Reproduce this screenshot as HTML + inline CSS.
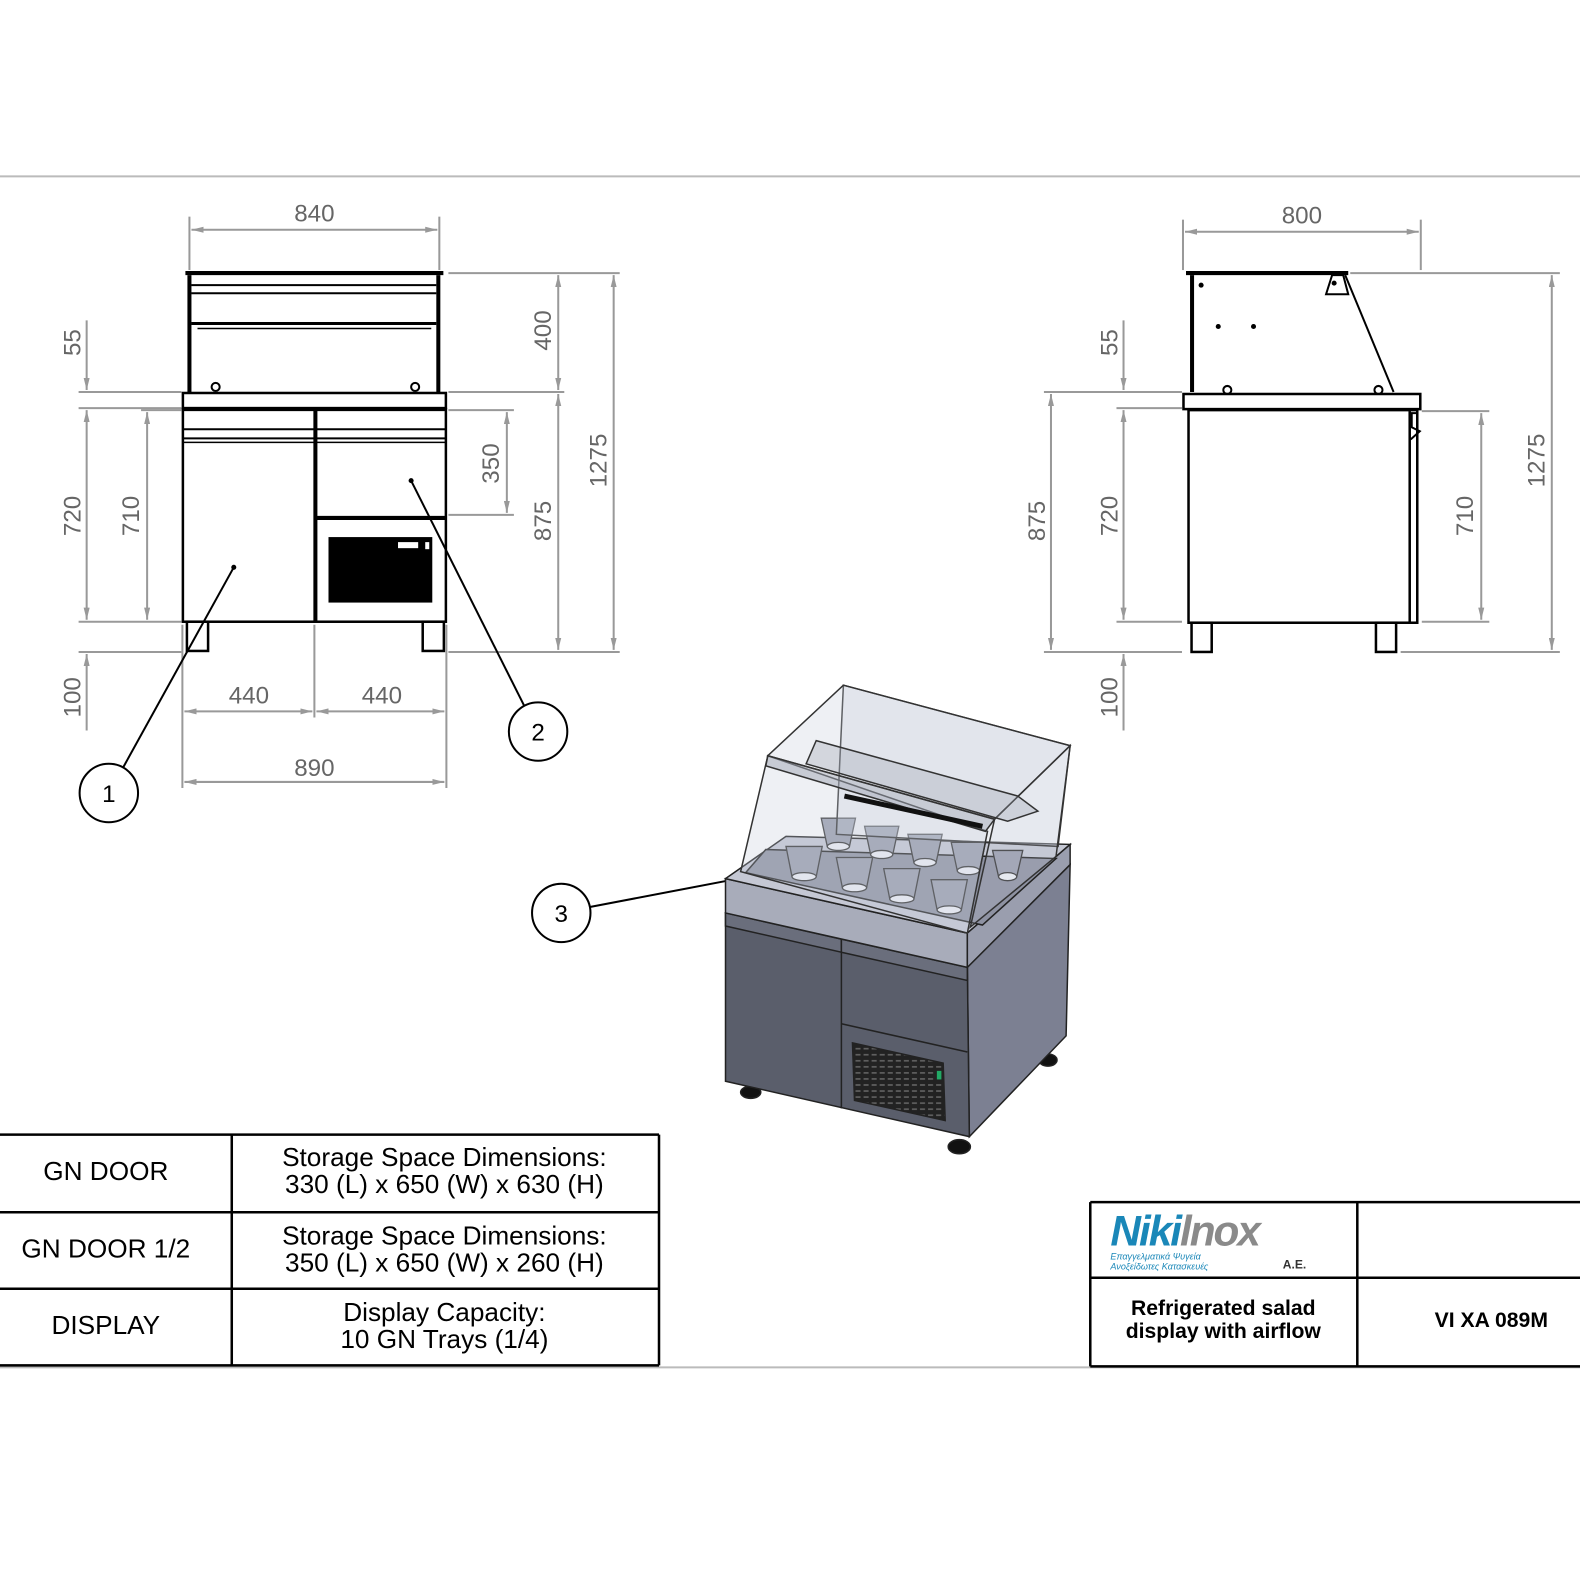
<!DOCTYPE html>
<html><head><meta charset="utf-8"><style>
html,body{margin:0;padding:0;background:#fff;}
svg{display:block}
text{font-family:"Liberation Sans",sans-serif;}
</style></head><body>
<svg width="1580" height="1580" viewBox="0 0 1568 1568" xmlns="http://www.w3.org/2000/svg">
<defs>
<marker id="a" markerWidth="12" markerHeight="6" refX="12" refY="3" orient="auto-start-reverse" markerUnits="userSpaceOnUse"><path d="M0,0 L12,3 L0,6 z" fill="#999"/></marker>
<pattern id="g" width="8" height="6" patternUnits="userSpaceOnUse"><rect width="8" height="6" fill="#222"/><rect x="1" y="2" width="5" height="1.5" fill="#666"/></pattern>
</defs>
<rect width="1568" height="1568" fill="#fff"/>
<line x1="0" y1="175" x2="1568" y2="175" stroke="#bbb" stroke-width="2"/>
<line x1="0" y1="1357" x2="1568" y2="1357" stroke="#bbb" stroke-width="2"/>

<!-- ========== FRONT VIEW ========== -->
<g stroke="#000" fill="none">
<line x1="184" y1="271" x2="440" y2="271" stroke-width="4"/>
<line x1="188" y1="273" x2="188" y2="389" stroke-width="4"/>
<line x1="435" y1="273" x2="435" y2="389" stroke-width="4"/>
<line x1="190" y1="283" x2="433" y2="283" stroke-width="2"/>
<line x1="190" y1="291" x2="433" y2="291" stroke-width="2"/>
<line x1="190" y1="321" x2="433" y2="321" stroke-width="3"/>
<line x1="196" y1="326" x2="428" y2="326" stroke-width="1.5"/>
<circle cx="214" cy="384" r="4" stroke-width="2"/>
<circle cx="412" cy="384" r="4" stroke-width="2"/>
<rect x="181.5" y="390" width="261" height="15" stroke-width="2.5"/>
<line x1="181" y1="406" x2="443" y2="406" stroke-width="4"/>
<rect x="181.5" y="406" width="261" height="211" stroke-width="2.5"/>
<line x1="313" y1="406" x2="313" y2="617" stroke-width="4"/>
<line x1="182" y1="426" x2="443" y2="426" stroke-width="2"/>
<line x1="182" y1="435" x2="443" y2="435" stroke-width="2"/>
<line x1="182" y1="439" x2="443" y2="439" stroke-width="1.5"/>
<line x1="313" y1="514" x2="443" y2="514" stroke-width="4"/>
<rect x="185.5" y="617" width="21" height="29" stroke-width="2.5"/>
<rect x="419.5" y="617" width="21" height="29" stroke-width="2.5"/>
</g>
<rect x="326" y="533" width="103" height="65" fill="#000"/>
<rect x="394" y="537" width="22" height="8" fill="#fff" stroke="#000" stroke-width="2"/>
<rect x="421" y="537" width="6" height="9" fill="#fff" stroke="#000" stroke-width="2"/>

<!-- front dims -->
<g stroke="#999" stroke-width="2" fill="none">
<line x1="188" y1="215" x2="188" y2="268"/><line x1="436" y1="215" x2="436" y2="268"/>
<line x1="190" y1="228" x2="434" y2="228" marker-start="url(#a)" marker-end="url(#a)"/>
<line x1="445" y1="271" x2="615" y2="271"/>
<line x1="445" y1="389" x2="560" y2="389"/>
<line x1="445" y1="407" x2="510" y2="407"/>
<line x1="445" y1="511" x2="510" y2="511"/>
<line x1="445" y1="647" x2="615" y2="647"/>
<line x1="554" y1="273" x2="554" y2="387" marker-start="url(#a)" marker-end="url(#a)"/>
<line x1="554" y1="391" x2="554" y2="645" marker-start="url(#a)" marker-end="url(#a)"/>
<line x1="609" y1="273" x2="609" y2="645" marker-start="url(#a)" marker-end="url(#a)"/>
<line x1="503" y1="409" x2="503" y2="509" marker-start="url(#a)" marker-end="url(#a)"/>
<line x1="78" y1="389" x2="180" y2="389"/>
<line x1="78" y1="405" x2="180" y2="405"/>
<line x1="78" y1="617" x2="180" y2="617"/>
<line x1="78" y1="647" x2="180" y2="647"/>
<line x1="140" y1="407" x2="180" y2="407"/>
<line x1="86" y1="318" x2="86" y2="387" marker-end="url(#a)"/>
<line x1="86" y1="407" x2="86" y2="615" marker-start="url(#a)" marker-end="url(#a)"/>
<line x1="146" y1="409" x2="146" y2="615" marker-start="url(#a)" marker-end="url(#a)"/>
<line x1="86" y1="649" x2="86" y2="725" marker-start="url(#a)"/>
<line x1="181" y1="620" x2="181" y2="782"/><line x1="312" y1="620" x2="312" y2="712"/><line x1="443" y1="620" x2="443" y2="782"/>
<line x1="183" y1="706" x2="310" y2="706" marker-start="url(#a)" marker-end="url(#a)"/>
<line x1="314" y1="706" x2="441" y2="706" marker-start="url(#a)" marker-end="url(#a)"/>
<line x1="183" y1="776" x2="441" y2="776" marker-start="url(#a)" marker-end="url(#a)"/>
</g>
<g fill="#666" font-size="24">
<text x="312" y="220" text-anchor="middle">840</text>
<text x="247" y="698" text-anchor="middle">440</text>
<text x="379" y="698" text-anchor="middle">440</text>
<text x="312" y="770" text-anchor="middle">890</text>
<text transform="translate(80,340) rotate(-90)" text-anchor="middle">55</text>
<text transform="translate(80,512) rotate(-90)" text-anchor="middle">720</text>
<text transform="translate(138,512) rotate(-90)" text-anchor="middle">710</text>
<text transform="translate(80,692) rotate(-90)" text-anchor="middle">100</text>
<text transform="translate(547,328) rotate(-90)" text-anchor="middle">400</text>
<text transform="translate(495,460) rotate(-90)" text-anchor="middle">350</text>
<text transform="translate(547,517) rotate(-90)" text-anchor="middle">875</text>
<text transform="translate(602,457) rotate(-90)" text-anchor="middle">1275</text>
</g>

<!-- balloons -->
<g stroke="#000" stroke-width="2" fill="#fff">
<line x1="122" y1="762" x2="232" y2="563"/>
<line x1="520" y1="700" x2="408" y2="477"/>
<line x1="586" y1="900" x2="722" y2="874"/>
<circle cx="108" cy="787" r="29"/>
<circle cx="534" cy="726" r="29"/>
<circle cx="557" cy="906" r="29"/>
</g>
<circle cx="232" cy="563" r="2.5"/><circle cx="408" cy="477" r="2.5"/>
<g font-size="24" text-anchor="middle" fill="#000">
<text x="108" y="796">1</text><text x="534" y="735">2</text><text x="557" y="915">3</text>
</g>

<!-- ========== SIDE VIEW ========== -->
<g stroke="#000" fill="none">
<line x1="1177" y1="271" x2="1338" y2="271" stroke-width="4"/>
<line x1="1183" y1="273" x2="1183" y2="389" stroke-width="4"/>
<polygon points="1322,273 1333,273 1338,292 1316,292" stroke-width="2"/>
<line x1="1335" y1="273" x2="1383" y2="389" stroke-width="2"/>
<circle cx="1218" cy="387" r="4" stroke-width="2"/><circle cx="1368" cy="387" r="4" stroke-width="2"/>
<rect x="1174.5" y="391" width="235" height="15" stroke-width="2.5"/>
<rect x="1179.5" y="407" width="227" height="211" stroke-width="2.5"/>
<line x1="1399" y1="408" x2="1399" y2="618" stroke-width="2.5"/>
<polyline points="1407,410 1401,410 1401,424 1409,428 1400,436" stroke-width="2"/>
<rect x="1182.5" y="618" width="20" height="29" stroke-width="2.5"/>
<rect x="1365.5" y="618" width="20" height="29" stroke-width="2.5"/>
</g>
<circle cx="1192" cy="283" r="2.5"/><circle cx="1209" cy="324" r="2.5"/><circle cx="1244" cy="324" r="2.5"/><circle cx="1324" cy="281" r="2.5"/>
<g stroke="#999" stroke-width="2" fill="none">
<line x1="1174" y1="218" x2="1174" y2="268"/><line x1="1410" y1="218" x2="1410" y2="268"/>
<line x1="1176" y1="230" x2="1408" y2="230" marker-start="url(#a)" marker-end="url(#a)"/>
<line x1="1340" y1="271" x2="1548" y2="271"/>
<line x1="1411" y1="408" x2="1478" y2="408"/>
<line x1="1411" y1="617" x2="1478" y2="617"/>
<line x1="1390" y1="647" x2="1548" y2="647"/>
<line x1="1036" y1="389" x2="1173" y2="389"/>
<line x1="1108" y1="405" x2="1173" y2="405"/>
<line x1="1108" y1="617" x2="1173" y2="617"/>
<line x1="1036" y1="647" x2="1173" y2="647"/>
<line x1="1043" y1="391" x2="1043" y2="645" marker-start="url(#a)" marker-end="url(#a)"/>
<line x1="1115" y1="318" x2="1115" y2="387" marker-end="url(#a)"/>
<line x1="1115" y1="407" x2="1115" y2="615" marker-start="url(#a)" marker-end="url(#a)"/>
<line x1="1115" y1="649" x2="1115" y2="725" marker-start="url(#a)"/>
<line x1="1470" y1="410" x2="1470" y2="615" marker-start="url(#a)" marker-end="url(#a)"/>
<line x1="1540" y1="273" x2="1540" y2="645" marker-start="url(#a)" marker-end="url(#a)"/>
</g>
<g fill="#666" font-size="24">
<text x="1292" y="222" text-anchor="middle">800</text>
<text transform="translate(1109,340) rotate(-90)" text-anchor="middle">55</text>
<text transform="translate(1109,512) rotate(-90)" text-anchor="middle">720</text>
<text transform="translate(1109,692) rotate(-90)" text-anchor="middle">100</text>
<text transform="translate(1037,517) rotate(-90)" text-anchor="middle">875</text>
<text transform="translate(1462,512) rotate(-90)" text-anchor="middle">710</text>
<text transform="translate(1533,457) rotate(-90)" text-anchor="middle">1275</text>
</g>

<!-- ========== ISO VIEW ========== -->
<g stroke="#222" stroke-width="1.5">
<ellipse cx="745" cy="1084" rx="10" ry="6" fill="#111"/>
<ellipse cx="952" cy="1138" rx="11" ry="7" fill="#111"/>
<ellipse cx="1040" cy="1052" rx="9" ry="6" fill="#111"/>
<polygon points="960,960 1062,858 1058,1028 962,1128" fill="#7c8092"/>
<polygon points="720,906 960,960 962,1128 720,1073" fill="#5a5e6b"/>
<line x1="835" y1="932" x2="835" y2="1100"/>
<polygon points="720,906 835,932 835,945 720,919" fill="#6a6e7c"/>
<polygon points="835,932 960,960 960,973 835,945" fill="#6a6e7c"/>
<line x1="835" y1="1016" x2="960" y2="1044"/>
<polygon points="846,1035 936,1055 938,1112 848,1092" fill="url(#g)"/>
<rect x="929" y="1062" width="6" height="10" fill="#2a6" />
<polygon points="720,872 960,926 960,960 720,906" fill="#a8acba"/>
<polygon points="720,872 780,830 1062,838 960,926" fill="#c5c8d4"/>
<polygon points="960,926 1062,838 1062,858 960,960" fill="#9a9eae"/>
<polygon points="760,843 1048,852 975,918 740,866" fill="#8e92a2"/>
</g>
<g stroke="#333" stroke-width="1.3">
<g fill="#9a9eae">
<path d="M815,812 h34 l-6,28 h-22 z"/><path d="M858,820 h34 l-6,28 h-22 z"/><path d="M901,828 h34 l-6,28 h-22 z"/><path d="M944,836 h34 l-6,28 h-22 z"/><path d="M985,844 h30 l-6,26 h-18 z"/>
<path d="M780,840 h36 l-6,30 h-24 z"/><path d="M830,851 h36 l-6,30 h-24 z"/><path d="M877,862 h36 l-6,30 h-24 z"/><path d="M924,873 h36 l-6,30 h-24 z"/>
</g>
<g fill="#eef0f6">
<ellipse cx="832" cy="840" rx="11" ry="4"/><ellipse cx="875" cy="848" rx="11" ry="4"/><ellipse cx="918" cy="856" rx="11" ry="4"/><ellipse cx="961" cy="864" rx="11" ry="4"/><ellipse cx="1000" cy="870" rx="9" ry="4"/>
<ellipse cx="798" cy="870" rx="12" ry="4"/><ellipse cx="848" cy="881" rx="12" ry="4"/><ellipse cx="895" cy="892" rx="12" ry="4"/><ellipse cx="942" cy="903" rx="12" ry="4"/>
</g>
</g>
<g stroke="#333" stroke-width="1.5" fill="rgba(200,205,220,0.3)">
<polygon points="837,680 1062,740 1050,840 830,828"/>
<polygon points="762,750 837,680 1062,740 987,813"/>
<polygon points="762,750 735,865 960,926 980,825"/>
<polygon points="987,813 1062,740 1048,850 963,920" fill="rgba(200,205,220,0.2)"/>
<polygon points="762,750 987,813 978,825 760,760" fill="rgba(160,165,180,0.5)"/>
<polygon points="810,735 1010,790 1030,805 1000,815 800,758" fill="rgba(150,155,170,0.3)"/>
<line x1="838" y1="790" x2="975" y2="820" stroke="#111" stroke-width="5"/>
</g>

<!-- ========== TABLE ========== -->
<g stroke="#000" stroke-width="2.5" fill="none">
<line x1="0" y1="1126" x2="654" y2="1126"/>
<line x1="0" y1="1203" x2="654" y2="1203"/>
<line x1="0" y1="1279" x2="654" y2="1279"/>
<line x1="0" y1="1355" x2="654" y2="1355"/>
<line x1="230" y1="1126" x2="230" y2="1355"/>
<line x1="654" y1="1126" x2="654" y2="1355"/>
<line x1="1082" y1="1193" x2="1568" y2="1193"/>
<line x1="1082" y1="1268" x2="1568" y2="1268"/>
<line x1="1082" y1="1356" x2="1568" y2="1356"/>
<line x1="1082" y1="1193" x2="1082" y2="1356"/>
<line x1="1347" y1="1193" x2="1347" y2="1356"/>
</g>
<g font-size="26" fill="#000" text-anchor="middle">
<text x="105" y="1171">GN DOOR</text>
<text x="105" y="1248">GN DOOR 1/2</text>
<text x="105" y="1324">DISPLAY</text>
<text x="441" y="1157">Storage Space Dimensions:</text>
<text x="441" y="1184">330 (L) x 650 (W) x 630 (H)</text>
<text x="441" y="1235">Storage Space Dimensions:</text>
<text x="441" y="1262">350 (L) x 650 (W) x 260 (H)</text>
<text x="441" y="1311">Display Capacity:</text>
<text x="441" y="1338">10 GN Trays (1/4)</text>
</g>
<text x="1102" y="1236" font-size="42" font-weight="bold" font-style="italic" fill="#1a87b8" letter-spacing="-2">Niki<tspan fill="#8a8a8a">lnox</tspan></text>
<text x="1102" y="1250" font-size="9" font-style="italic" fill="#1a87b8">Επαγγελματικά Ψυγεία</text>
<text x="1102" y="1260" font-size="9" font-style="italic" fill="#1a87b8">Ανοξείδωτες Κατασκευές</text>
<text x="1273" y="1259" font-size="12" font-weight="bold" fill="#333">A.E.</text>
<g font-size="21" font-weight="bold" fill="#000" text-anchor="middle">
<text x="1214" y="1305">Refrigerated salad</text>
<text x="1214" y="1328">display with airflow</text>
<text x="1480" y="1317">VI XA 089M</text>
</g>
</svg>
</body></html>
